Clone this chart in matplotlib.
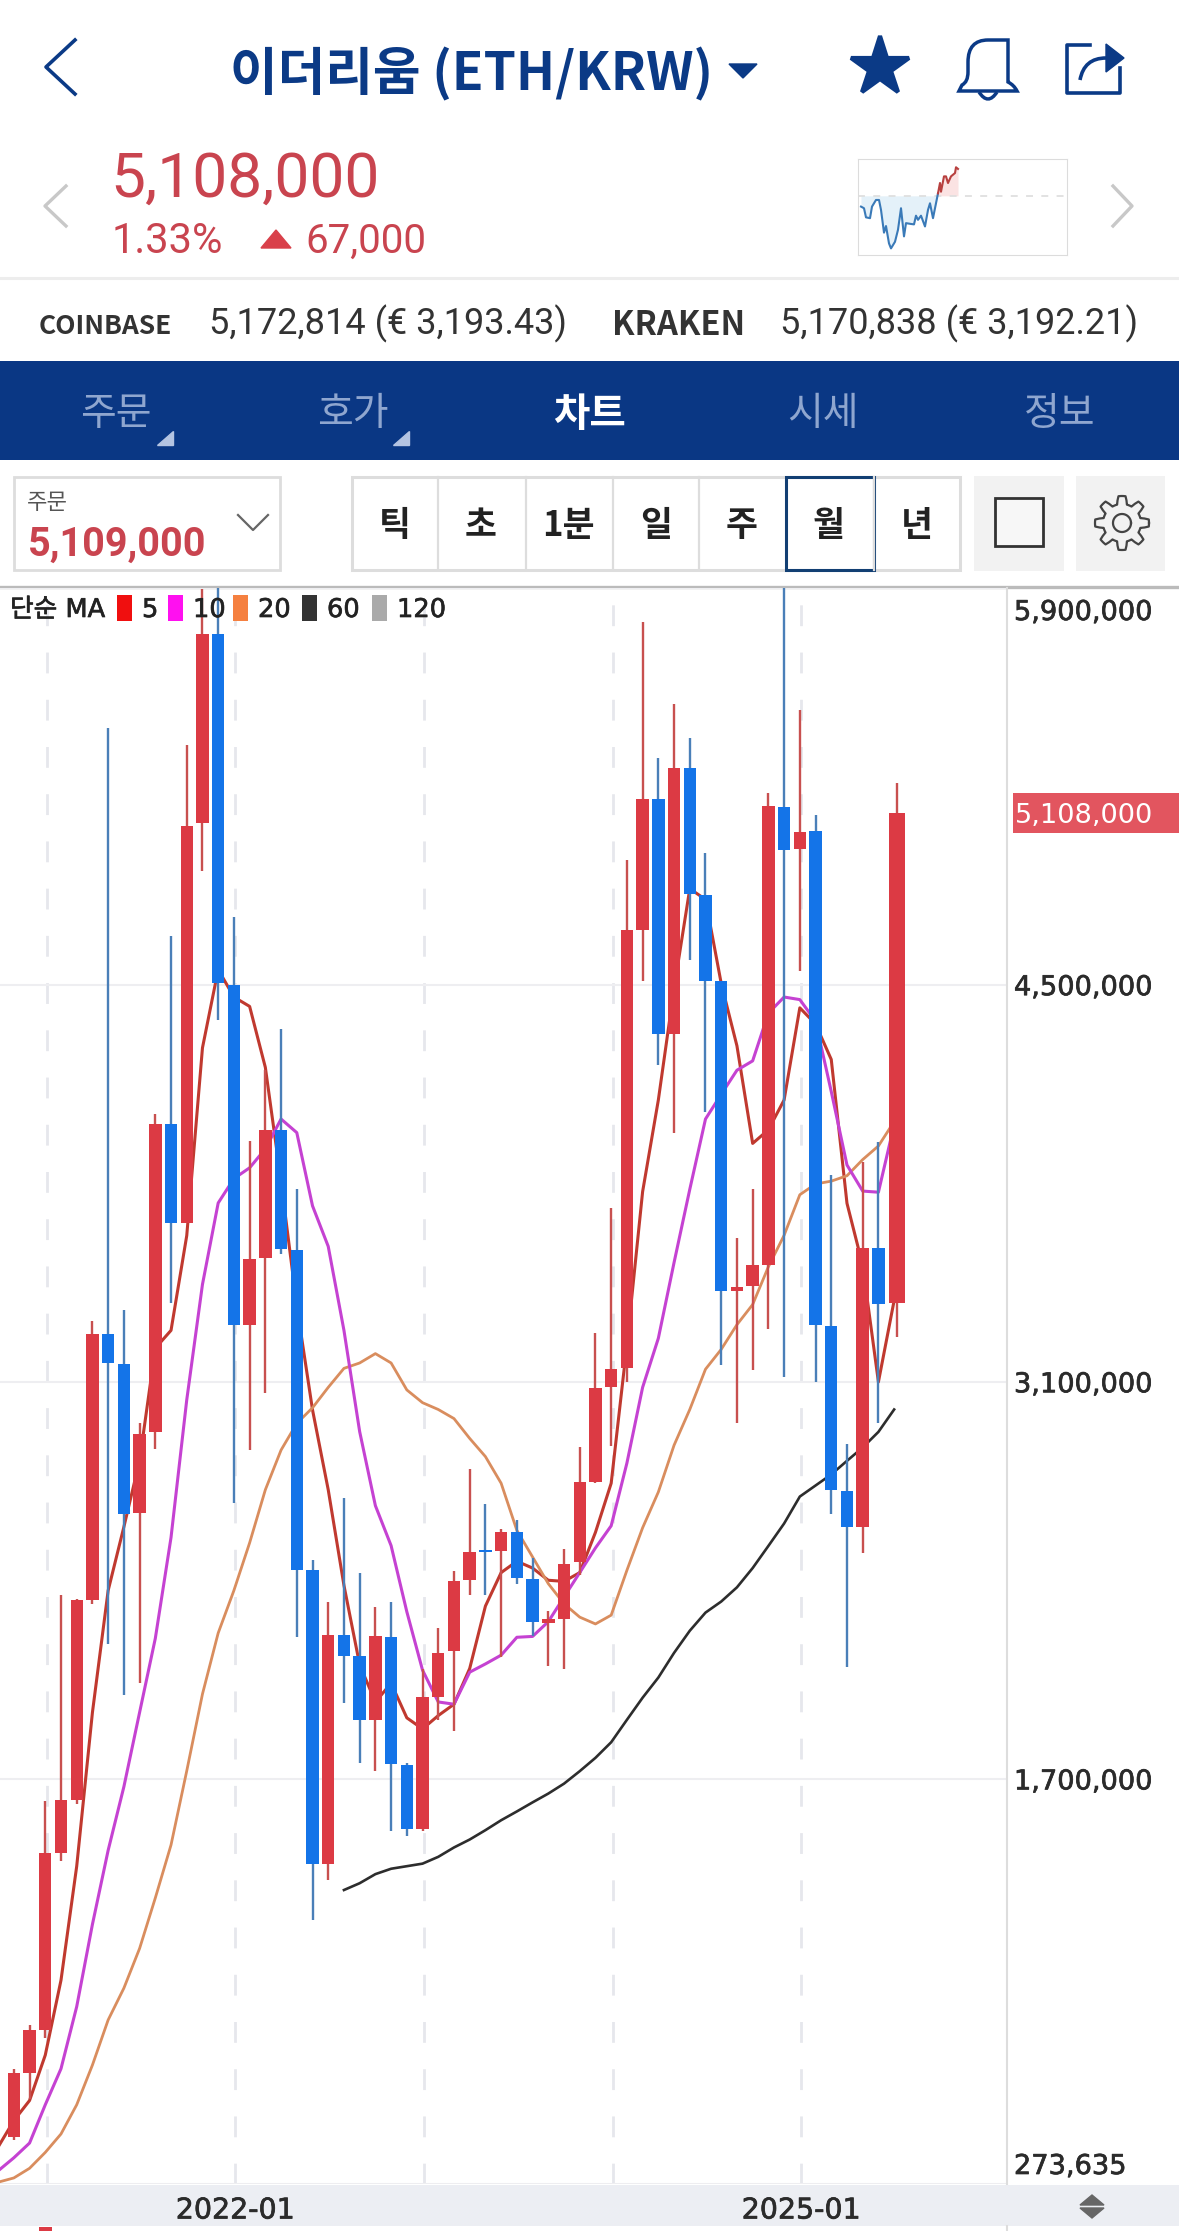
import numpy as np
import matplotlib
matplotlib.use('Agg')
import matplotlib.pyplot as plt
import matplotlib.patheffects as pe
from matplotlib.patches import Rectangle, Polygon, PathPatch
from matplotlib.path import Path
from matplotlib.transforms import ScaledTranslation

plt.rcParams['lines.scale_dashes'] = False
KR = ['Noto Sans CJK KR', 'DejaVu Sans']
NUM = ['Roboto', 'Noto Sans CJK KR']

W, H = 1179, 2231
NAVY = '#0b3a86'
RED = '#dc3a44'
BLUE = '#1474e8'

### monthly candles, thousands of KRW, month 0 = 2021-01, first candle is month -2 ###
first_month = -2
opens = [441, 665, 815, 1441, 1628, 2332, 3269, 3166, 2640, 2926, 4011, 3663, 5070, 5739, 4502, 3302, 3537,
         3988, 3568, 2437, 1400, 2210, 2134, 1910, 2203, 1751, 1525, 1991, 2154, 2402, 2507, 2505, 2571, 2405,
         2251, 2267, 2465, 2750, 3083, 3149, 4695, 5157, 4328, 5266, 4818, 4514, 3422, 3440, 3514, 5127, 4980,
         5043, 3300, 2717, 2590, 3573, 3378]
closes = [665, 815, 1441, 1628, 2332, 3269, 3168, 2637, 2917, 4011, 3663, 5060, 5739, 4506, 3302, 3533, 3988,
          3569, 2437, 1400, 2210, 2136, 1910, 2207, 1753, 1525, 1990, 2146, 2401, 2503, 2500, 2571, 2409, 2256,
          2264, 2461, 2747, 3081, 3147, 4695, 5157, 4328, 5266, 4821, 4516, 3420, 3437, 3514, 5131, 4978, 5039,
          3302, 2720, 2590, 3573, 3377, 5108]
highs = [680, 833, 1624, 2351, 2337, 3317, 5408, 3354, 2957, 4047, 4674, 5347, 5895, 6000, 4739, 3952, 4200,
         4345, 3780, 2472, 2326, 2691, 2427, 2308, 2326, 1758, 2089, 2235, 2434, 2793, 2670, 2582, 2613, 2481,
         2292, 2511, 2873, 3272, 3715, 4942, 5781, 5299, 5490, 5370, 4965, 4514, 3608, 3783, 5179, 6000, 5469,
         5098, 3831, 2883, 3875, 3946, 5211]
lows = [428, 575, 790, 1413, 1614, 2319, 2179, 1996, 2039, 2866, 3378, 3663, 4904, 4376, 2674, 2861, 3063,
        3552, 2201, 1203, 1345, 1970, 1757, 1730, 1517, 1500, 1517, 1910, 1870, 2350, 2350, 2130, 2389, 2204,
        2099, 2088, 2421, 2744, 2874, 3102, 4516, 4219, 3980, 4588, 4051, 3162, 2958, 3143, 3288, 3120, 4550,
        3102, 2634, 2095, 2497, 2957, 3260]

### moving averages, MA5/10/20 start at month -3, MA60 at month 19 ###
ma5 = [404, 497, 568, 728, 992, 1394, 1936, 2366, 2590, 2824, 3220, 3283, 3617, 4279, 4555, 4458, 4425, 4210,
       3808, 3370, 3003, 2721, 2384, 2104, 1973, 2039, 1917, 1878, 1925, 1965, 2091, 2311, 2429, 2469, 2445,
       2402, 2398, 2429, 2571, 2744, 3232, 3772, 4095, 4488, 4840, 4802, 4506, 4286, 3942, 3990, 4095, 4420,
       4363, 4238, 3731, 3512, 3101, 3388]
ma10 = [320, 366, 418, 553, 680, 899, 1189, 1450, 1674, 1936, 2197, 2553, 3038, 3445, 3732, 3818, 3856, 3923,
        4028, 3980, 3722, 3579, 3283, 2926, 2665, 2524, 2291, 2085, 1973, 1965, 2078, 2107, 2138, 2201, 2204,
        2256, 2343, 2429, 2516, 2594, 2815, 3082, 3255, 3522, 3780, 4028, 4115, 4200, 4233, 4401, 4458, 4449,
        4373, 4125, 3866, 3774, 3770, 4008]
ma20 = [280, 295, 329, 385, 450, 553, 693, 852, 964, 1104, 1282, 1469, 1730, 2001, 2216, 2366, 2534, 2721,
        2861, 2955, 3010, 3082, 3149, 3168, 3201, 3168, 3073, 3028, 3004, 2972, 2902, 2838, 2744, 2578, 2484,
        2390, 2319, 2272, 2248, 2279, 2437, 2587, 2713, 2878, 3004, 3146, 3216, 3303, 3374, 3507, 3618, 3761,
        3799, 3809, 3828, 3885, 3933, 4019]
ma60 = [1310, 1334, 1366, 1385, 1394, 1403, 1427, 1460, 1488, 1521, 1556, 1587, 1619, 1650, 1685, 1729, 1776,
        1831, 1910, 1988, 2059, 2146, 2224, 2288, 2327, 2377, 2445, 2523, 2602, 2697, 2736, 2775, 2823, 2870,
        2925, 3004]

price_ticks = [273635, 1700000, 3100000, 4500000, 5900000]
price_labels = ['273,635', '1,700,000', '3,100,000', '4,500,000', '5,900,000']
year_ticks = [0, 12, 24, 36, 48]
year_labels = ['', '2022-01', '', '', '2025-01']

### intraday sparkline, thousands of KRW ###
spark_t = [3, 6, 8, 12, 14, 18, 21, 23, 26, 28, 31, 33, 37, 40, 43, 46, 48, 53, 56, 58, 60, 63,
           67, 70, 72, 75, 78, 80]
spark_blue = [5015, 5011, 4989, 4987, 5015, 5031, 5031, 5007, 4952, 4968, 4926, 4914, 4930, 4959, 5011, 4943,
              4975, 4973, 4972, 4993, 4983, 4993, 4967, 5007, 5023, 4987, 5023, 5047]
spark_t2 = [80, 82, 83, 86, 88, 90, 93, 97, 98, 100]
spark_red = [5047, 5072, 5051, 5088, 5088, 5072, 5088, 5096, 5110, 5106]
spark_base = 5041

fig = plt.figure(figsize=(W / 100, H / 100), dpi=100, facecolor='white')

# background layer in image pixels
ui = fig.add_axes([0, 0, 1, 1], zorder=1)
ui.set_xlim(0, W)
ui.set_ylim(H, 0)
ui.axis('off')
# legend sits over the candles
top = fig.add_axes([0, 0, 1, 1], zorder=4)
top.set_xlim(0, W)
top.set_ylim(H, 0)
top.axis('off')

# reference numbers look a bit heavier than DejaVu regular
heavy = [pe.withStroke(linewidth=0.5, foreground='#2b2b2b')]


def box(x0, y0, x1, y1, fc='none', ec='none', lw=0, target=None):
    (target or ui).add_patch(Rectangle((x0, y0), x1 - x0, y1 - y0, facecolor=fc, edgecolor=ec, linewidth=lw))


def label(x, y, s, size, color='#222222', family=KR, weight='normal', ha='center', target=None):
    return (target or ui).text(x, y, s, fontsize=size, color=color, family=family, weight=weight, ha=ha,
                               va='center_baseline')


### Header ###
ui.plot([75, 46, 75], [40, 67, 94], color=NAVY, lw=2.6)
label(471, 69, '이더리움 (ETH/KRW)', 37.3, NAVY, weight='bold')
ui.add_patch(Polygon([(729, 64), (757, 64), (743, 78)], color=NAVY))
ui.plot([880], [67], marker='*', ms=44, color=NAVY, mec=NAVY, mew=3, mfc=NAVY, solid_joinstyle='round')
bell = Path([(988, 40), (968, 40), (968, 62), (968, 72), (968, 82), (962, 85), (959, 91), (1017, 91), (1014, 85),
             (1008, 82), (1008, 72), (1008, 62), (1008, 40), (988, 40)],
            [Path.MOVETO, Path.CURVE3, Path.CURVE3, Path.LINETO, Path.CURVE3, Path.CURVE3, Path.LINETO, Path.LINETO,
             Path.CURVE3, Path.CURVE3, Path.LINETO, Path.CURVE3, Path.CURVE3, Path.CLOSEPOLY])
ui.add_patch(PathPatch(bell, fc='none', ec=NAVY, lw=2.5))
ui.add_patch(PathPatch(Path([(979, 92), (988, 106), (997, 92)], [Path.MOVETO, Path.CURVE3, Path.CURVE3]),
                       fc='none', ec=NAVY, lw=2.5))
ui.plot([1090, 1067, 1067, 1120, 1120], [45, 45, 93, 93, 68], color=NAVY, lw=2.6)
ui.add_patch(PathPatch(Path([(1080, 80), (1084, 58), (1106, 58)], [Path.MOVETO, Path.CURVE3, Path.CURVE3]),
                       fc='none', ec=NAVY, lw=2.6))
ui.add_patch(Polygon([(1106, 44), (1124, 58), (1106, 72)], fc=NAVY, ec=NAVY))

### Price block ###
ui.plot([66, 45, 66], [186, 206, 226], color='#c8c8c8', lw=2.4)
ui.plot([1113, 1132, 1113], [186, 206, 226], color='#c8c8c8', lw=2.4)
label(110, 174, '5,108,000', 44.8, '#c9444f', NUM, ha='left')
label(112, 237, '1.33%', 30, '#c9444f', NUM, ha='left')
ui.add_patch(Polygon([(261, 248), (291, 248), (276, 230)], color='#d9404a'))
label(305, 237, '67,000', 29, '#c9444f', NUM, ha='left')

sp = fig.add_axes([858 / W, 1 - 255 / H, 209 / W, 96 / H], zorder=2)
sp.set_xlim(0, 209)
sp.set_ylim(4898, 5130)
sp.set_xticks([])
sp.set_yticks([])
for s in sp.spines.values():
    s.set_color('#dcdcdc')
sp.axhline(spark_base, color='#dddddd', lw=1.2, ls=(0, (5, 6)))
sp.fill_between(spark_t, spark_blue, spark_base, color='#e4f1f9', lw=0)
sp.fill_between(spark_t2, spark_red, spark_base, color='#fbe3e3', lw=0)
sp.plot(spark_t, spark_blue, color='#3a7ab8', lw=1.5)
sp.plot(spark_t2, spark_red, color='#b8403f', lw=1.5)

### Exchange row ###
ui.plot([0, W], [278, 278], color='#ededed', lw=2.2)
label(39, 324, 'COINBASE', 19, '#333333', weight='bold', ha='left')
label(209, 320, '5,172,814 (€ 3,193.43)', 26, '#333333', NUM, ha='left')
label(612, 322, 'KRAKEN', 23.6, '#333333', weight='bold', ha='left')
label(780, 320, '5,170,838 (€ 3,192.21)', 26, '#333333', NUM, ha='left')

### Nav band ###
box(0, 361, W, 460, fc='#0a3784')
for x, s in zip([116, 353, 823, 1060], ['주문', '호가', '시세', '정보']):
    label(x, 410, s, 28, '#8fa6cf')
label(589, 410, '차트', 28.5, 'white', weight='bold')
for x in [173, 409]:
    ui.add_patch(Polygon([(x, 431), (x, 445), (x - 16, 445)], color='#b4c4e2'))

### Toolbar ###
box(14, 477, 280, 570, fc='white', ec='#dddddd', lw=2)
label(27, 500, '주문', 16, '#555555', ha='left')
label(28, 541, '5,109,000', 28.5, '#c9444f', NUM, weight='bold', ha='left')
ui.plot([238, 253, 268], [515, 530, 515], color='#666666', lw=1.6)
box(352, 477, 960, 570, fc='white', ec='#dddddd', lw=2.2)
for x in [438, 526, 613, 699, 874]:
    ui.plot([x, x], [477, 570], color='#dddddd', lw=1.6)
box(786, 477, 874, 570, ec='#123f73', lw=2.2)
for x, s in zip([395, 481, 568, 656, 742, 829, 917], ['틱', '초', '1분', '일', '주', '월', '년']):
    label(x, 522, s, 25, '#222222', weight='bold')
box(974, 476, 1064, 571, fc='#f2f2f2')
box(995, 498, 1043, 546, fc='#f7f7f7', ec='#333333', lw=2)
box(1076, 476, 1165, 571, fc='#f2f2f2')
theta = np.linspace(0, 2 * np.pi, 97)
gear_r = 23 + 4 * np.clip(2.2 * np.cos(8 * theta), -1, 1)
ui.plot(1122 + gear_r * np.cos(theta), 523 + gear_r * np.sin(theta), color='#444444', lw=1.6)
ui.plot(1122 + 9 * np.cos(theta), 523 + 9 * np.sin(theta), color='#444444', lw=1.6)

### Frame around the chart ###
ui.plot([0, W], [587, 587], color='#bbbbbb', lw=2.4)
box(0, 2185, W, 2226, fc='#eceef3')
ui.plot([1007, 1007], [2226, H], color='#dddddd', lw=1.5)
box(39, 2227, 52, H, fc=RED)
ui.add_patch(Polygon([(1080, 2205), (1104, 2205), (1092, 2195)], color='#666666'))
ui.add_patch(Polygon([(1080, 2208), (1104, 2208), (1092, 2218)], color='#666666'))

### Candles ###
ax = fig.add_axes([0, 1 - 2184 / H, 1007 / W, (2184 - 588) / H], zorder=2)
ax.patch.set_alpha(0)
ax.set_xlim(-2.88, 61.18)
ax.set_ylim(273635, 5900000)

months = np.arange(first_month, first_month + len(opens), dtype=float)
o = np.array(opens) * 1000.0
c = np.array(closes) * 1000.0
hi = np.array(highs) * 1000.0
lo = np.array(lows) * 1000.0
widths = np.full(len(months), 0.79)
months[-1] += 0.16  # current month sits a little wider
widths[-1] = 1.0
up = c >= o

ma_x = np.arange(-3, -3 + len(ma5))
ax.plot(ma_x, np.array(ma5) * 1000.0, color='#c0392f', lw=2.2, zorder=2)
ax.plot(ma_x, np.array(ma20) * 1000.0, color='#d98d5e', lw=2.0, zorder=2)
ax.plot(ma_x, np.array(ma10) * 1000.0, color='#c542d2', lw=2.2, zorder=2.1)
ax.plot(np.arange(19, 19 + len(ma60)), np.array(ma60) * 1000.0, color='#2d2d2d', lw=1.9, zorder=2)

ax.vlines(months[up], lo[up], hi[up], color='#c8504f', lw=1.7, zorder=3)
ax.vlines(months[~up], lo[~up], hi[~up], color='#4a7fb8', lw=1.7, zorder=3)
ax.bar(months[up], (c - o)[up], bottom=o[up], width=widths[up], color=RED, zorder=3)
ax.bar(months[~up], (o - c)[~up], bottom=c[~up], width=widths[~up], color=BLUE, zorder=3)

### Axes ###
ax.set_xticks(np.array(year_ticks) + 0.1)
ax.set_xticklabels(year_labels, fontsize=20.5, color='#2b2b2b', family='DejaVu Sans', path_effects=heavy)
ax.set_yticks(price_ticks)
ax.set_yticklabels(price_labels, fontsize=19.6, color='#2b2b2b', family='DejaVu Sans', path_effects=heavy)
ax.yaxis.tick_right()
ax.tick_params(axis='x', length=0, pad=9)
ax.tick_params(axis='y', length=0, pad=5)
ax.grid(axis='x', color='#e6e7ec', lw=2, ls=(0, (15, 19)), zorder=0)
ax.grid(axis='y', color='#eeeef1', lw=1.5, zorder=0)
ax.set_axisbelow(True)
for name in ['top', 'left', 'bottom']:
    ax.spines[name].set_visible(False)
ax.spines['right'].set_color('#dddddd')
ax.spines['right'].set_linewidth(1.5)
# end labels sit inside the plot height
tl = ax.get_yticklabels()
for lab, dy in [(tl[0], 20), (tl[-1], -22)]:
    lab.set_transform(lab.get_transform() + ScaledTranslation(0, dy / 100, fig.dpi_scale_trans))

### Current price tag ###
tag_y = 2184 - (5108000 - 273635) / (5900000 - 273635) * (2184 - 588)
box(1013, tag_y - 20, W, tag_y + 20, fc='#e2555f', target=top)
label(1015, tag_y, f'{closes[-1] * 1000:,}', 19.6, 'white', 'DejaVu Sans', ha='left', target=top)

### MA legend ###
label(10, 607, '단순 MA', 18.5, '#222222', ['DejaVu Sans', 'Noto Sans CJK KR'], ha='left',
      target=top).set_path_effects(heavy)
for x0, x1, col, s in [(117, 132, '#f00f0f', '5'), (168, 183, '#ff10f0', '10'), (233, 248, '#f58040', '20'),
                       (302, 317, '#333333', '60'), (372, 387, '#aaaaaa', '120')]:
    box(x0, 595, x1, 621, fc=col, target=top)
    label(x1 + 10, 607, s, 18.5, '#222222', 'DejaVu Sans', ha='left', target=top).set_path_effects(heavy)

fig.savefig('out.png', dpi=100)
